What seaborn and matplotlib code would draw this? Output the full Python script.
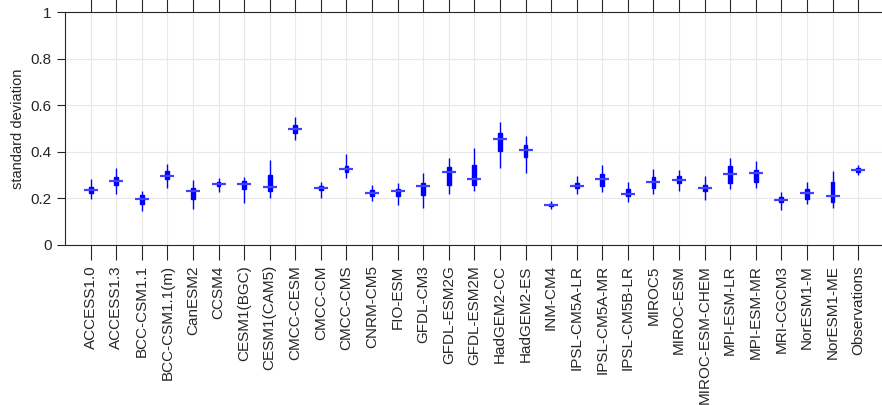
import matplotlib.pyplot as plt
import pandas as pd
import seaborn as sns

models = ["ACCESS1.0", "ACCESS1.3", "BCC-CSM1.1", "BCC-CSM1.1(m)", "CanESM2", "CCSM4",
          "CESM1(BGC)", "CESM1(CAM5)", "CMCC-CESM", "CMCC-CM", "CMCC-CMS", "CNRM-CM5",
          "FIO-ESM", "GFDL-CM3", "GFDL-ESM2G", "GFDL-ESM2M", "HadGEM2-CC", "HadGEM2-ES",
          "INM-CM4", "IPSL-CM5A-LR", "IPSL-CM5A-MR", "IPSL-CM5B-LR", "MIROC5", "MIROC-ESM",
          "MIROC-ESM-CHEM", "MPI-ESM-LR", "MPI-ESM-MR", "MRI-CGCM3", "NorESM1-M",
          "NorESM1-ME", "Observations"]

# five-number summaries
low = [0.196, 0.220, 0.145, 0.243, 0.155, 0.227, 0.182, 0.202, 0.449, 0.203, 0.289,
       0.190, 0.173, 0.160, 0.220, 0.230, 0.332, 0.308, 0.153, 0.220, 0.229, 0.185,
       0.218, 0.233, 0.195, 0.240, 0.245, 0.149, 0.175, 0.157, 0.302]
q1 = [0.224, 0.259, 0.177, 0.282, 0.196, 0.255, 0.242, 0.232, 0.482, 0.235, 0.315,
      0.212, 0.212, 0.215, 0.259, 0.259, 0.405, 0.376, 0.166, 0.243, 0.255, 0.210,
      0.243, 0.266, 0.232, 0.267, 0.272, 0.183, 0.197, 0.185, 0.313]
med = [0.236, 0.275, 0.196, 0.295, 0.233, 0.263, 0.260, 0.250, 0.498, 0.245, 0.326,
       0.222, 0.230, 0.253, 0.315, 0.282, 0.454, 0.409, 0.172, 0.253, 0.283, 0.218,
       0.270, 0.280, 0.245, 0.305, 0.308, 0.193, 0.222, 0.212, 0.322]
q3 = [0.248, 0.290, 0.213, 0.319, 0.245, 0.272, 0.276, 0.300, 0.514, 0.253, 0.339,
      0.236, 0.242, 0.265, 0.335, 0.342, 0.481, 0.429, 0.177, 0.265, 0.305, 0.239,
      0.292, 0.295, 0.258, 0.338, 0.322, 0.207, 0.239, 0.270, 0.330]
high = [0.285, 0.330, 0.230, 0.349, 0.278, 0.286, 0.292, 0.365, 0.548, 0.270, 0.390,
        0.256, 0.265, 0.308, 0.372, 0.416, 0.528, 0.466, 0.190, 0.296, 0.345, 0.270,
        0.325, 0.322, 0.295, 0.372, 0.359, 0.226, 0.270, 0.318, 0.342]

rows = []
for i, m in enumerate(models):
    for v in (low[i], q1[i], med[i], q3[i], high[i]):
        rows.append({"model": m, "std": v})
df = pd.DataFrame(rows)
meds = pd.DataFrame({"model": models, "std": med})

sns.set_style("ticks")
plt.rcParams["font.family"] = ["Liberation Sans", "DejaVu Sans"]

fig = plt.figure(figsize=(8.82, 4.05), dpi=100)
ax = fig.add_axes([65 / 882, 160 / 405, 818.7 / 882, 233 / 405])

sns.boxplot(data=df, x="model", y="std", ax=ax, whis=(0, 100), width=0.15,
            color="blue", fill=True, linewidth=1.0, showcaps=False, showfliers=False,
            boxprops={"facecolor": "blue", "edgecolor": "blue"},
            whiskerprops={"color": "blue"}, medianprops={"color": "blue"})
sns.scatterplot(data=meds, x="model", y="std", ax=ax, marker="_", s=110,
                color=(0.25, 0.25, 1.0), linewidth=1.6, zorder=5, legend=False)

ax.set_xlim(-1, 31)
ax.set_ylim(0, 1)
ax.set_yticks([0, 0.2, 0.4, 0.6, 0.8, 1])
ax.set_yticklabels(["0", "0.2", "0.4", "0.6", "0.8", "1"])
ax.set_xlabel("")
ax.set_ylabel("standard deviation", fontsize=10.5, color="#262626")
ax.grid(True, color="#e8e8e8", linewidth=0.8)
ax.set_axisbelow(True)
for s in ["top", "bottom", "left", "right"]:
    ax.spines[s].set_visible(True)
    ax.spines[s].set_color("#262626")
    ax.spines[s].set_linewidth(0.8)
ax.tick_params(axis="x", rotation=90, labelsize=11, top=True, direction="out",
               length=11, color="#262626", labelcolor="#262626")
ax.tick_params(axis="y", labelsize=11, direction="out", length=6,
               color="#262626", labelcolor="#262626")

plt.savefig("out.png", dpi=100)
